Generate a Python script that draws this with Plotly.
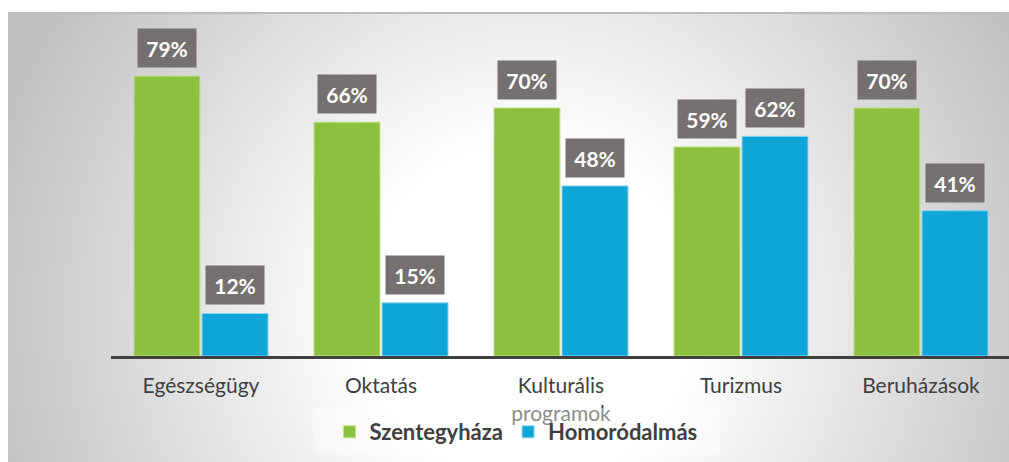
import base64
import plotly.graph_objects as go

# Survey shares by area, two towns
categories = ["Egészségügy", "Oktatás", "Kulturális<br>programok", "Turizmus", "Beruházások"]
szentegyhaza = [79, 66, 70, 59, 70]
homorodalmas = [12, 15, 48, 62, 41]
series_names = ["Szentegyháza", "Homoródalmás"]

GREEN = "#8dc03f"
BLUE = "#0fa6d7"
LABEL_BG = "#767171"
TEXT = "#404040"

W, H = 1009, 462
ML, MR, MT, MB = 111, 0, 13, 106
PW, PH = W - ML - MR, H - MT - MB

BARGAP = 0.244
BARGROUPGAP = 0.03

# soft radial backdrop behind the chart
box_w, box_h = 1001, 449
svg = f"""<svg xmlns='http://www.w3.org/2000/svg' width='{box_w}' height='{box_h}' viewBox='0 0 {box_w} {box_h}' preserveAspectRatio='none'>
<defs><radialGradient id='g' gradientUnits='userSpaceOnUse' cx='520' cy='300' r='560' fx='520' fy='300'>
<stop offset='0' stop-color='#ffffff'/><stop offset='0.3' stop-color='#ffffff'/><stop offset='1' stop-color='#c0c0c0'/>
</radialGradient></defs>
<rect x='0' y='0' width='{box_w}' height='{box_h}' fill='url(#g)'/></svg>"""
bg_uri = "data:image/svg+xml;base64," + base64.b64encode(svg.encode()).decode()

fig = go.Figure()
fig.add_trace(go.Bar(
    name=series_names[0], x=categories, y=szentegyhaza,
    marker=dict(color=GREEN, line=dict(color="#c2e38a", width=1)),
))
fig.add_trace(go.Bar(
    name=series_names[1], x=categories, y=homorodalmas,
    marker=dict(color=BLUE, line=dict(color="#86d6f2", width=1)),
))

# value boxes above each bar
offset = (1 - BARGAP) / 4
annotations = []
for i, (a, b) in enumerate(zip(szentegyhaza, homorodalmas)):
    for xv, val in ((i - offset, a), (i + offset, b)):
        annotations.append(dict(
            x=xv, y=val, xref="x", yref="y", text=f"<b>{val}%</b>",
            showarrow=False, yanchor="bottom", yshift=8,
            width=58, height=38, borderpad=0, bgcolor=LABEL_BG,
            font=dict(family="Lato", size=21, color="#ffffff"),
        ))

fig.update_layout(
    width=W, height=H,
    margin=dict(l=ML, r=MR, t=MT, b=MB),
    paper_bgcolor="#ffffff", plot_bgcolor="rgba(0,0,0,0)",
    barmode="group", bargap=BARGAP, bargroupgap=BARGROUPGAP,
    showlegend=True,
    legend=dict(
        orientation="h", x=(516 - ML) / PW, xanchor="center",
        y=(MT + PH - 432) / PH, yanchor="middle",
        bgcolor="rgba(0,0,0,0)",
        font=dict(family="Lato", size=22, color=TEXT, weight="bold"),
        itemclick=False, traceorder="normal",
    ),
    annotations=annotations,
    images=[dict(
        source=bg_uri, xref="paper", yref="paper",
        x=(8 - ML) / PW, y=1.0, sizex=box_w / PW, sizey=box_h / PH,
        xanchor="left", yanchor="top", sizing="stretch", layer="below",
    )],
    shapes=[
        dict(type="line", xref="paper", yref="paper",
             x0=(8 - ML) / PW, x1=1.0, y0=1.0, y1=1.0,
             line=dict(color="#bdbdbd", width=2)),
        # light band behind the legend
        dict(type="rect", xref="paper", yref="paper", layer="above",
             x0=(313 - ML) / PW, x1=(720 - ML) / PW,
             y0=(MT + PH - 455) / PH, y1=(MT + PH - 408) / PH,
             fillcolor="rgba(255,255,255,0.4)", line=dict(width=0)),
    ],
    xaxis=dict(
        range=[-0.5, 4.489], showline=True, linecolor=TEXT, linewidth=3,
        ticks="", showgrid=False, zeroline=False, ticklabelstandoff=9,
        tickfont=dict(family="Lato", size=21, color=TEXT),
    ),
    yaxis=dict(range=[0, 96.8], visible=False, showgrid=False, zeroline=False),
)

fig.write_html("out.html")
